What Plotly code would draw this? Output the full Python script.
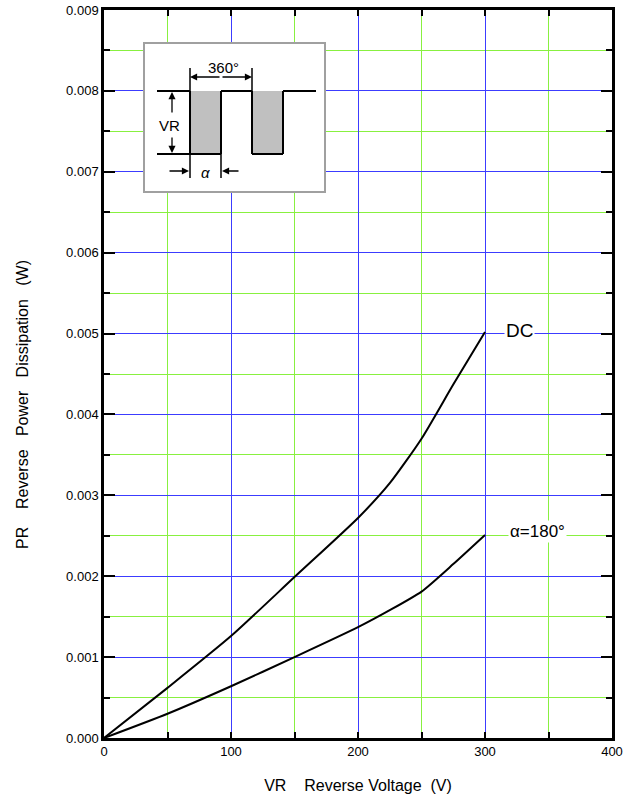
import plotly.graph_objects as go

# ---- data ----
dc_v = [0, 50, 100, 150, 200, 225, 250, 275, 300]
dc_p = [0.0, 0.00062, 0.00126, 0.00199, 0.00272, 0.00315, 0.00370, 0.00437, 0.00502]

a180_v = [0, 50, 100, 150, 200, 225, 250, 275, 300]
a180_p = [0.0, 0.00030, 0.00064, 0.00100, 0.00137, 0.00158, 0.00181, 0.00215, 0.00251]

x_ticks = [0, 100, 200, 300, 400]
y_ticks = [0.000, 0.001, 0.002, 0.003, 0.004, 0.005, 0.006, 0.007, 0.008, 0.009]

BLUE = "#3c3cff"
GREEN = "#88f040"
NB = "\u00a0"
FONT = "Arial, Liberation Sans, Helvetica, sans-serif"

fig = go.Figure()
for xs, ys in ((dc_v, dc_p), (a180_v, a180_p)):
    fig.add_trace(go.Scatter(x=xs, y=ys, mode="lines",
                             line=dict(color="black", width=2, shape="spline", smoothing=0.6),
                             showlegend=False, hoverinfo="skip"))

# plot-area geometry in page pixels (body margin removed by post_script)
L, R, T, B = 104, 612, 10, 738
W_, H_ = R - L, B - T
FW, FH = 635, 796


def P(px, py):
    return (px - L) / W_, (B - py) / H_


shapes = []


def rect(x0, y0, x1, y1, **kw):
    a, b = P(x0, y1)
    c, d = P(x1, y0)
    shapes.append(dict(type="rect", xref="paper", yref="paper", x0=a, y0=b, x1=c, y1=d, layer="above", **kw))


def line(x0, y0, x1, y1, w=2, color="black"):
    a, b = P(x0, y0)
    c, d = P(x1, y1)
    shapes.append(dict(type="line", xref="paper", yref="paper", x0=a, y0=b, x1=c, y1=d, layer="above",
                       line=dict(color=color, width=w)))


# inset box
rect(144, 43, 325, 192, line=dict(color="#a0a0a0", width=2), fillcolor="white")
rect(190, 91, 221, 154, line=dict(width=0), fillcolor="#c0c0c0")
rect(252, 91, 283, 154, line=dict(width=0), fillcolor="#c0c0c0")
# waveform
wave = [(157, 91), (190, 91), (190, 154), (221, 154), (221, 91), (252, 91), (252, 154), (283, 154), (283, 91), (316, 91)]
for (xa, ya), (xb, yb) in zip(wave[:-1], wave[1:]):
    line(xa, ya, xb, yb)
line(157, 154, 190, 154)
line(190, 68, 190, 178, w=1.5)
line(252, 68, 252, 91, w=1.5)
line(221, 154, 221, 178, w=1.5)

annotations = []


def arrow(x_tail, y_tail, x_head, y_head):
    hx, hy = P(x_head, y_head)
    annotations.append(dict(xref="paper", yref="paper", x=hx, y=hy, ax=x_tail - x_head, ay=y_tail - y_head,
                            axref="pixel", ayref="pixel", text="", showarrow=True, arrowhead=2, arrowsize=1.1,
                            arrowwidth=1.3, arrowcolor="black"))


def label(px, py, text, size, italic=False):
    x, y = P(px, py)
    annotations.append(dict(xref="paper", yref="paper", x=x, y=y, text=("<i>%s</i>" % text) if italic else text,
                            showarrow=False, xanchor="center", yanchor="middle",
                            font=dict(family=FONT, size=size, color="black")))


arrow(221, 77, 252, 77)
arrow(221, 77, 190, 77)
arrow(172, 114, 172, 92)
arrow(172, 136, 172, 153)
arrow(168, 171, 189, 171)
arrow(240, 171, 222, 171)
label(223, 67, "360°", 15)
label(169, 125, "VR", 15)
label(205, 172, "α", 15, italic=True)

# curve labels placed in data coordinates
annotations.append(dict(x=327, y=0.00504, xref="x", yref="y", text="DC", showarrow=False,
                        font=dict(family=FONT, size=19, color="black"), bgcolor="white", borderpad=1))
annotations.append(dict(x=341, y=0.00255, xref="x", yref="y", text="α=180°", showarrow=False,
                        font=dict(family=FONT, size=17, color="black"), bgcolor="white", borderpad=1))

# y-axis title (sits slightly below the plot centre in the reference)
yt_x, yt_y = P(22, 405)
annotations.append(dict(xref="paper", yref="paper", x=yt_x, y=yt_y, textangle=-90, showarrow=False,
                        xanchor="center", yanchor="middle",
                        text="PR" + NB * 4 + "Reverse" + NB * 3 + "Power" + NB * 3 + "Dissipation" + NB * 3 + "(W)",
                        font=dict(family=FONT, size=16, color="black")))

axis_common = dict(showline=True, linecolor="black", linewidth=2.5, mirror="ticks", ticks="inside",
                   tickcolor="black", tickwidth=2, zeroline=False, automargin=False,
                   tickfont=dict(family=FONT, size=13, color="black"))

fig.update_layout(
    width=FW, height=FH,
    margin=dict(l=L, r=FW - R, t=T, b=FH - B, autoexpand=False),
    paper_bgcolor="white", plot_bgcolor="white",
    xaxis=dict(range=[0, 400], tickvals=x_ticks, ticktext=[str(v) for v in x_ticks], ticklen=6,
               gridcolor=BLUE, gridwidth=1,
               minor=dict(dtick=50, tick0=0, ticks="inside", ticklen=6, tickwidth=2, tickcolor="black",
                          showgrid=True, gridcolor=GREEN, gridwidth=1),
               title=dict(text="VR" + NB * 4 + "Reverse Voltage" + NB * 2 + "(V)", standoff=22,
                          font=dict(family=FONT, size=16, color="black")),
               **axis_common),
    yaxis=dict(range=[0, 0.009], tickvals=y_ticks, ticktext=["%.3f" % v for v in y_ticks], ticklen=11,
               gridcolor=BLUE, gridwidth=1,
               minor=dict(dtick=0.0005, tick0=0, ticks="inside", ticklen=6, tickwidth=2, tickcolor="black",
                          showgrid=True, gridcolor=GREEN, gridwidth=1),
               **axis_common),
    shapes=shapes,
    annotations=annotations,
)

fig.write_html("out.html", config={"displayModeBar": False},
               post_script="document.body.style.margin='0px';")
